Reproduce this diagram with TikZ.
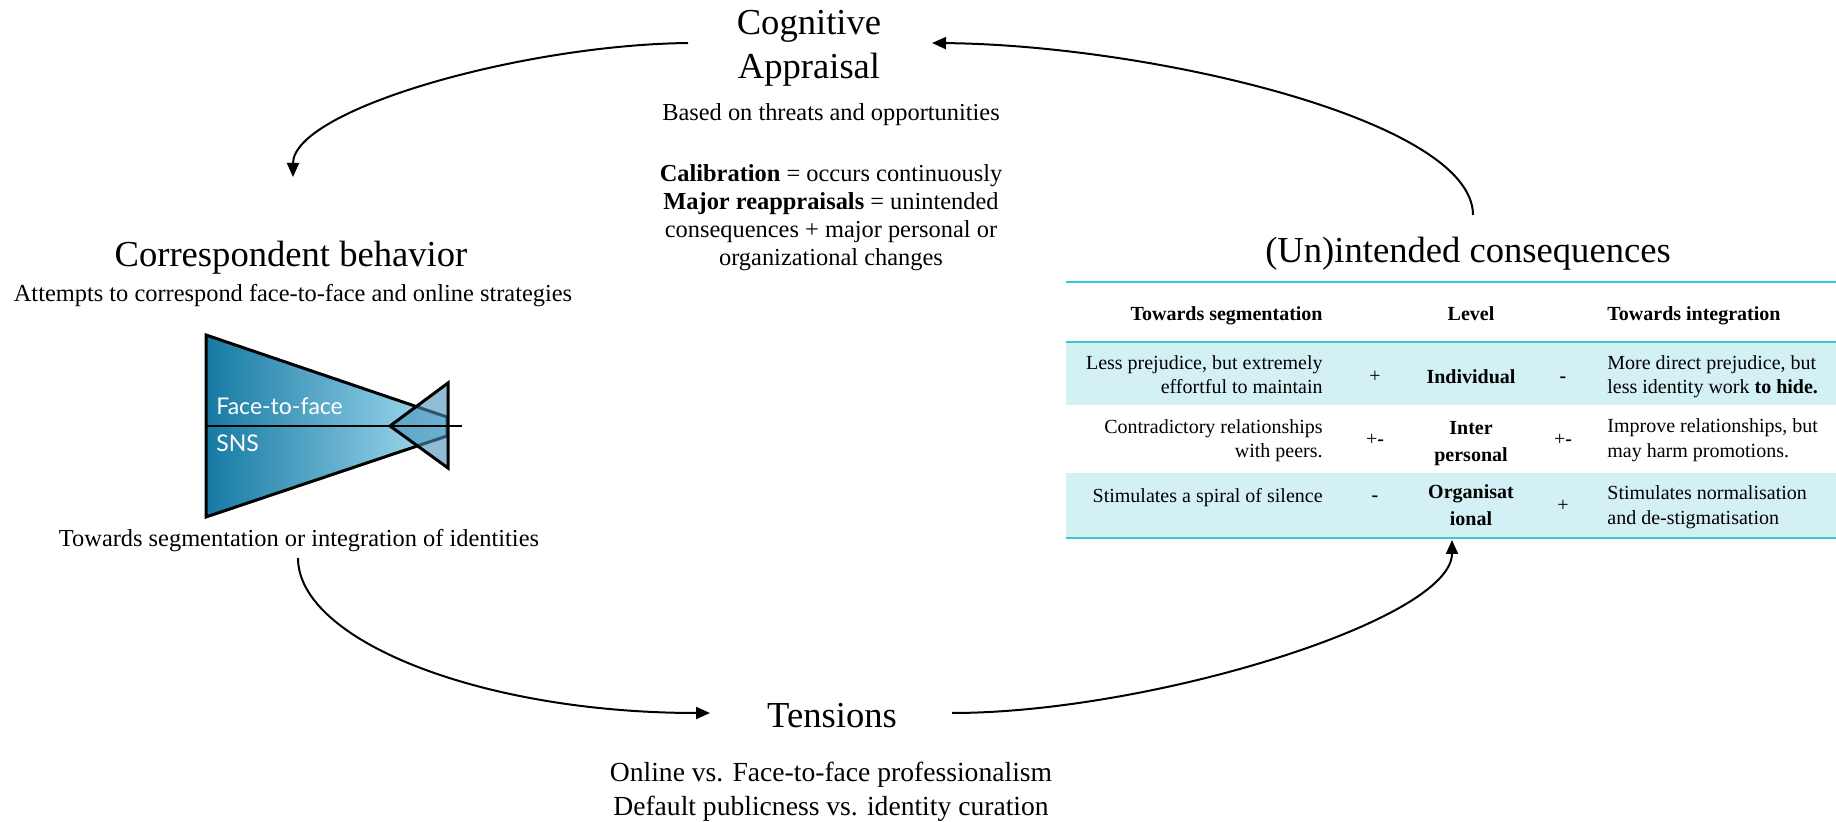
\documentclass[tikz,border=0pt]{standalone}
\usepackage{fontspec}
\setmainfont{Liberation Serif}
\newfontfamily\labelfont{Lato}
\usetikzlibrary{arrows.meta}
\definecolor{tblline}{RGB}{51,204,214}
\definecolor{tblshade}{RGB}{211,241,245}
\definecolor{wedgedark}{RGB}{22,122,163}
\definecolor{wedgelight}{RGB}{168,222,243}
\definecolor{conefill}{RGB}{70,145,185}

\begin{document}
\begin{tikzpicture}[x=0.5pt,y=-0.5pt,
  ttl/.style={font=\fontsize{18.3}{22}\selectfont, inner sep=0pt, anchor=base},
  sub/.style={font=\fontsize{12.2}{14.6}\selectfont, inner sep=0pt, anchor=base},
  tsub/.style={font=\fontsize{13.8}{16.5}\selectfont, inner sep=0pt, anchor=base},
  cell/.style={font=\fontsize{10}{12}\selectfont, inner sep=0pt},
  lcell/.style={cell, anchor=base east},
  rcell/.style={cell, anchor=base west},
  ccell/.style={cell, anchor=base, font=\fontsize{10}{12}\selectfont\bfseries},
  sgn/.style={cell, anchor=base},
  flow/.style={line width=1pt, -{Triangle[length=7pt,width=6pt]}},
  wlab/.style={font=\labelfont\fontsize{11.5}{13}\selectfont, text=white, inner sep=0pt, anchor=base west}
]
\useasboundingbox (0,0) rectangle (1836,822);

% ---------- Cognitive appraisal ----------
\node[ttl] (cogA) at (809,35) {Cognitive};
\node[ttl] (cogB) at (809,79) {Appraisal};
\node[sub] (cog1) at (831,121) {Based on threats and opportunities};
\node[sub] (cog2) at (831,182) {\textbf{Calibration} = occurs continuously};
\node[sub] (cog3) at (831,210) {\textbf{Major reappraisals} = unintended};
\node[sub] (cog4) at (831,238) {consequences + major personal or};
\node[sub] (cog5) at (831,266) {organizational changes};

% ---------- Correspondent behavior ----------
\node[ttl] (corT) at (291,267) {Correspondent behavior};
\node[sub] (cor1) at (293,302) {Attempts to correspond face-to-face and online strategies};
\node[sub] (cor2) at (299,547) {Towards segmentation or integration of identities};

% wedge graphic
\shadedraw[left color=wedgedark, right color=wedgelight, draw=black, line width=1.5pt]
  (206,335) -- (447,417) -- (447,436) -- (206,517) -- cycle;
\filldraw[fill=conefill, fill opacity=0.6, draw=black, line width=1.5pt]
  (390,426) -- (448,383) -- (448,468) -- cycle;
\draw[line width=1pt] (206,426) -- (462,426);
\node[wlab] (f2f) at (216,415) {Face-to-face};
\node[wlab] (sns) at (216,452) {SNS};

% ---------- Tensions ----------
\node[ttl] (tenT) at (832,727) {Tensions};
\node[tsub] (ten1) at (831,782) {Online vs. Face-to-face professionalism};
\node[tsub] (ten2) at (831,815) {Default publicness vs. identity curation};

% ---------- (Un)intended consequences ----------
\node[ttl] (conT) at (1468,263) {(Un)intended consequences};

\fill[tblshade] (1066,342) rectangle (1836,405);
\fill[tblshade] (1066,473) rectangle (1836,538);
\draw[tblline, line width=1.2pt] (1066,282) -- (1836,282);
\draw[tblline, line width=1.2pt] (1066,342) -- (1836,342);
\draw[tblline, line width=1.2pt] (1066,538) -- (1836,538);

% header
\node[lcell, font=\fontsize{10}{12}\selectfont\bfseries] (hSeg) at (1323,321) {Towards segmentation};
\node[ccell] (hLev) at (1471,321) {Level};
\node[rcell, font=\fontsize{10}{12}\selectfont\bfseries] (hInt) at (1607,321) {Towards integration};

% row: individual
\node[lcell] (r1a) at (1323,370) {Less prejudice, but extremely};
\node[lcell] (r1b) at (1323,394) {effortful to maintain};
\node[sgn] (r1p) at (1375,383) {+};
\node[ccell] (r1l) at (1471,384) {Individual};
\node[sgn] (r1m) at (1563,383) {\textbf{-}};
\node[rcell] (r1c) at (1607,370) {More direct prejudice, but};
\node[rcell] (r1d) at (1607,394) {less identity work \textbf{to hide.}};

% row: interpersonal
\node[lcell] (r2a) at (1323,434) {Contradictory relationships};
\node[lcell] (r2b) at (1323,458) {with peers.};
\node[sgn] (r2p) at (1375,446) {+\textbf{-}};
\node[ccell] (r2l) at (1471,435) {Inter};
\node[ccell] (r2k) at (1471,462) {personal};
\node[sgn] (r2m) at (1563,446) {+\textbf{-}};
\node[rcell] (r2c) at (1607,433) {Improve relationships, but};
\node[rcell] (r2d) at (1607,458) {may harm promotions.};

% row: organisational
\node[lcell] (r3a) at (1323,503) {Stimulates a spiral of silence};
\node[sgn] (r3p) at (1375,502) {\textbf{-}};
\node[ccell] (r3l) at (1471,499) {Organisat};
\node[ccell] (r3k) at (1471,526) {ional};
\node[sgn] (r3m) at (1563,512) {+};
\node[rcell] (r3c) at (1607,500) {Stimulates normalisation};
\node[rcell] (r3d) at (1607,525) {and de-stigmatisation};

% ---------- cycle connectors ----------
\coordinate (c1s) at (688,43);
\coordinate (c1e) at (293,177);
\coordinate (c2s) at (298,558);
\coordinate (c2e) at (710,713);
\coordinate (c3s) at (952,713);
\coordinate (c3e) at (1452,540);
\coordinate (c4s) at (1473,215);
\coordinate (c4e) at (932,43);

\draw[flow] (c1s) .. controls (520,45) and (293,110) .. (c1e);
\draw[flow] (c2s) .. controls (298,640) and (480,713) .. (c2e);
\draw[flow] (c3s) .. controls (1150,713) and (1452,620) .. (c3e);
\draw[flow] (c4s) .. controls (1473,120) and (1150,45) .. (c4e);

\end{tikzpicture}
\end{document}
